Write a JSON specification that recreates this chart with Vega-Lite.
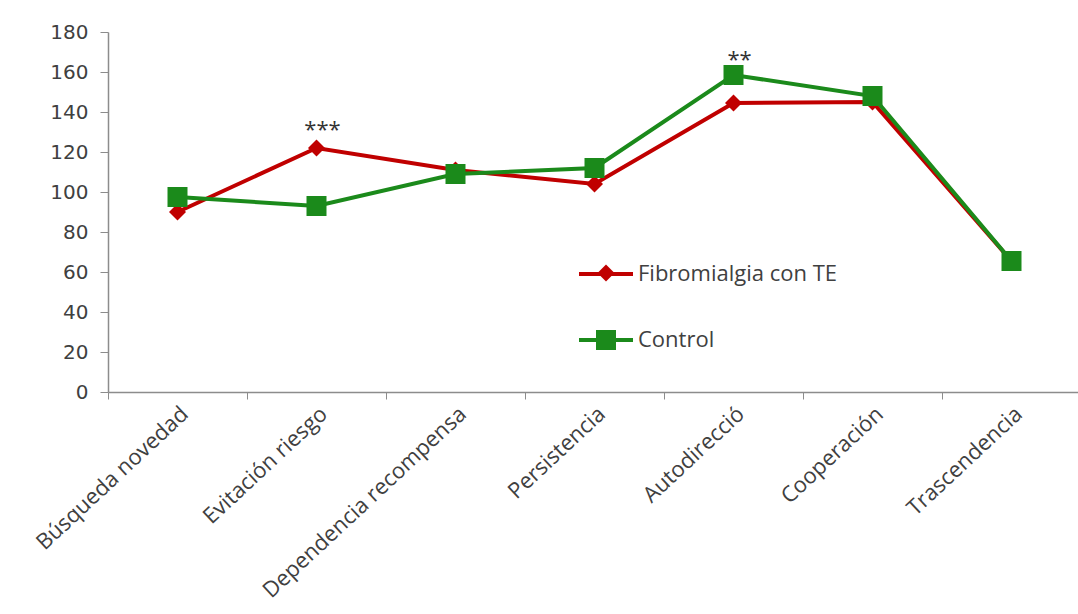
{
  "$schema": "https://vega.github.io/schema/vega-lite/v6.json",
  "width": 973,
  "height": 360,
  "autosize": {"type": "none"},
  "padding": {"left": 108, "top": 32, "right": 0, "bottom": 222},
  "background": "white",
  "config": {"view": {"stroke": null}, "font": "Open Sans"},
  "datasets": {
    "scores": [
      {"factor": "Búsqueda novedad", "group": "Fibromialgia con TE", "value": 90},
      {"factor": "Evitación riesgo", "group": "Fibromialgia con TE", "value": 122},
      {"factor": "Dependencia recompensa", "group": "Fibromialgia con TE", "value": 111},
      {"factor": "Persistencia", "group": "Fibromialgia con TE", "value": 104},
      {"factor": "Autodirecció", "group": "Fibromialgia con TE", "value": 144.5},
      {"factor": "Cooperación", "group": "Fibromialgia con TE", "value": 145},
      {"factor": "Trascendencia", "group": "Fibromialgia con TE", "value": 65.5},
      {"factor": "Búsqueda novedad", "group": "Control", "value": 97.5},
      {"factor": "Evitación riesgo", "group": "Control", "value": 93},
      {"factor": "Dependencia recompensa", "group": "Control", "value": 109},
      {"factor": "Persistencia", "group": "Control", "value": 112},
      {"factor": "Autodirecció", "group": "Control", "value": 158.5},
      {"factor": "Cooperación", "group": "Control", "value": 148},
      {"factor": "Trascendencia", "group": "Control", "value": 65.5}
    ],
    "stars": [
      {"factor": "Evitación riesgo", "value": 131, "label": "***"},
      {"factor": "Autodirecció", "value": 166, "label": "**"}
    ]
  },
  "encoding": {
    "x": {
      "field": "factor",
      "type": "nominal",
      "scale": {
        "type": "band",
        "paddingInner": 0,
        "paddingOuter": 0,
        "domain": ["Búsqueda novedad", "Evitación riesgo", "Dependencia recompensa", "Persistencia", "Autodirecció", "Cooperación", "Trascendencia"]
      },
      "axis": {
        "title": null,
        "tickBand": "extent",
        "labelAngle": -43,
        "labelFontSize": 22,
        "labelLimit": 0,
        "labelColor": "#404040",
        "labelPadding": 4,
        "domainColor": "#8c8c8c",
        "domainWidth": 1.5,
        "tickColor": "#8c8c8c",
        "tickSize": 7,
        "grid": false
      }
    },
    "y": {
      "field": "value",
      "type": "quantitative",
      "scale": {"domain": [0, 180]},
      "axis": {
        "title": null,
        "values": [0, 20, 40, 60, 80, 100, 120, 140, 160, 180],
        "labelFont": "DejaVu Sans",
        "labelFontSize": 20,
        "labelColor": "#404040",
        "labelPadding": 12,
        "domainColor": "#8c8c8c",
        "domainWidth": 1.5,
        "tickColor": "#8c8c8c",
        "tickSize": 8,
        "grid": false
      }
    }
  },
  "layer": [
    {
      "data": {"name": "scores"},
      "mark": {"type": "line", "strokeWidth": 4},
      "encoding": {
        "stroke": {
          "field": "group",
          "type": "nominal",
          "sort": ["Fibromialgia con TE", "Control"],
          "scale": {"range": ["#C00000", "#1B8A1B"]},
          "legend": {
            "title": null,
            "orient": "none",
            "legendX": 469,
            "legendY": 213,
            "padding": 0,
            "symbolType": "stroke",
            "symbolSize": 2916,
            "symbolStrokeWidth": 4,
            "labelFontSize": 22,
            "labelLimit": 0,
            "labelColor": "#404040",
            "labelOffset": 3,
            "rowPadding": 26
          }
        }
      }
    },
    {
      "data": {"name": "scores"},
      "mark": {"type": "point", "filled": true, "opacity": 1},
      "encoding": {
        "color": {
          "field": "group",
          "type": "nominal",
          "scale": {"domain": ["Fibromialgia con TE", "Control"], "range": ["#C00000", "#1B8A1B"]},
          "legend": {
            "title": null,
            "orient": "none",
            "legendX": 487,
            "legendY": 230,
            "padding": 0,
            "symbolSize": 170,
            "labelFontSize": 22,
            "labelLimit": 0,
            "labelOpacity": 0,
            "labelExpr": "' '",
            "labelOffset": 3,
            "rowPadding": 45
          }
        },
        "shape": {
          "field": "group",
          "type": "nominal",
          "scale": {"domain": ["Fibromialgia con TE", "Control"], "range": ["diamond", "square"]},
          "legend": {
            "title": null,
            "orient": "none",
            "legendX": 487,
            "legendY": 230,
            "padding": 0,
            "symbolSize": 170,
            "labelFontSize": 22,
            "labelLimit": 0,
            "labelOpacity": 0,
            "labelExpr": "' '",
            "labelOffset": 3,
            "rowPadding": 45
          }
        },
        "size": {
          "field": "group",
          "type": "nominal",
          "scale": {"domain": ["Fibromialgia con TE", "Control"], "range": [289, 400]},
          "legend": null
        }
      }
    },
    {
      "data": {"name": "stars"},
      "mark": {"type": "text", "fontSize": 22, "color": "#333333", "baseline": "middle", "dx": 6},
      "encoding": {"text": {"field": "label"}}
    }
  ]
}
